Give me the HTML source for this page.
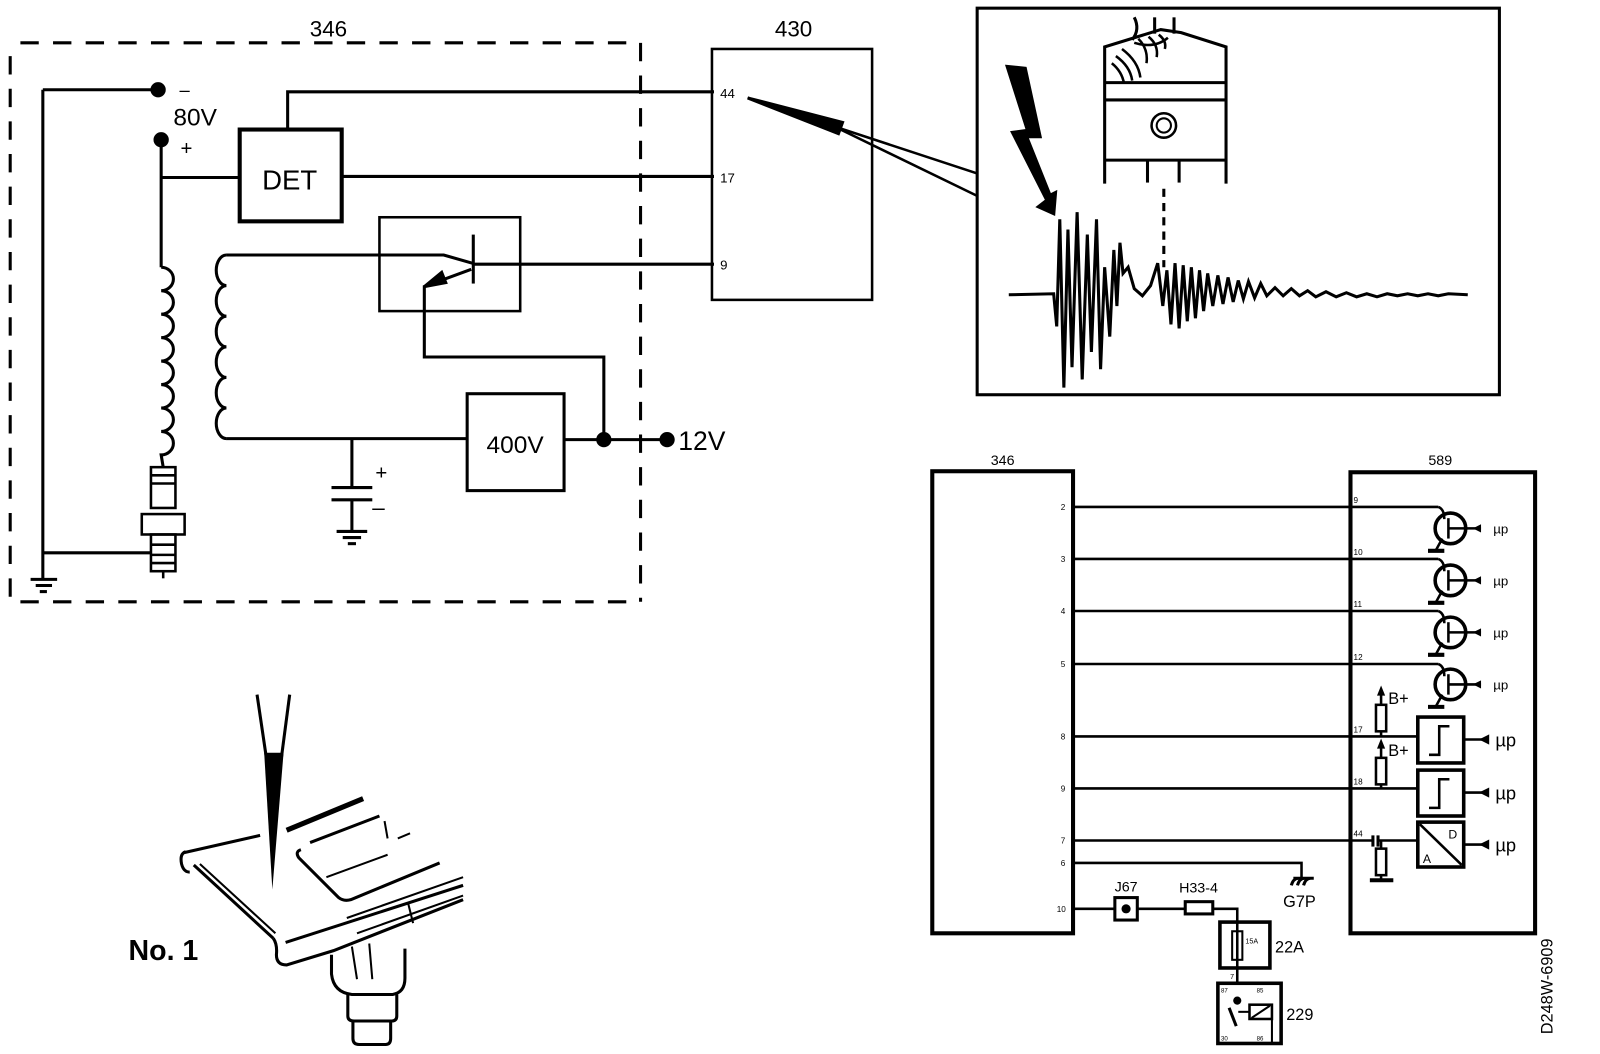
<!DOCTYPE html>
<html><head><meta charset="utf-8"><style>
html,body{margin:0;padding:0;background:#fff;}
svg{display:block;}
text{font-family:"Liberation Sans",Arial,sans-serif;fill:#000;}
</style></head><body>
<svg width="1600" height="1054" viewBox="0 0 1600 1054" xmlns="http://www.w3.org/2000/svg">
<rect width="1600" height="1054" fill="#fff"/>
<g transform="scale(1.02)" stroke="#000" fill="none" stroke-width="3" stroke-linecap="butt">

<!-- ===== TOP LEFT CIRCUIT ===== -->
<text x="322" y="36" font-size="22" text-anchor="middle" stroke="none">346</text>
<g stroke-width="3" stroke-dasharray="18 14">
<line x1="20" y1="42" x2="628" y2="42"/>
<line x1="10" y1="55" x2="10" y2="590"/>
<line x1="628" y1="42" x2="628" y2="590"/>
<line x1="20" y1="590" x2="628" y2="590"/>
</g>
<line x1="42" y1="88" x2="42" y2="567"/>
<line x1="42" y1="88" x2="155" y2="88"/>
<circle cx="155" cy="88" r="6" fill="#000"/>
<text x="176" y="94" font-size="18" stroke="none">–</text>
<text x="170" y="123" font-size="24" stroke="none">80V</text>
<circle cx="158" cy="137" r="6" fill="#000"/>
<text x="177" y="152" font-size="20" stroke="none">+</text>
<line x1="158" y1="137" x2="158" y2="262"/>
<line x1="158" y1="174" x2="235" y2="174"/>
<rect x="235" y="127" width="100" height="90" stroke-width="4"/>
<text x="284" y="186" font-size="27" text-anchor="middle" stroke="none">DET</text>
<polyline points="282,127 282,90 700,90"/>
<line x1="335" y1="173" x2="700" y2="173"/>
<!-- coil 1 -->
<path d="M158,262 a12,11.5 0 0 1 0,23 a12,11.5 0 0 1 0,23 a12,11.5 0 0 1 0,23 a12,11.5 0 0 1 0,23 a12,11.5 0 0 1 0,23 a12,11.5 0 0 1 0,23 a12,11.5 0 0 1 0,23 a12,11.5 0 0 1 0,23 L160,458"/>
<!-- spark plug -->
<g stroke-width="2.5">
<rect x="148" y="458" width="24" height="40"/>
<line x1="148" y1="466" x2="172" y2="466"/><line x1="148" y1="474" x2="172" y2="474"/>
<rect x="139" y="504" width="42" height="20"/>
<rect x="148" y="524" width="24" height="36"/>
<line x1="148" y1="534" x2="172" y2="534"/><line x1="148" y1="544" x2="172" y2="544"/><line x1="148" y1="552" x2="172" y2="552"/>
<line x1="160" y1="560" x2="160" y2="567"/>
</g>
<line x1="42" y1="542" x2="148" y2="542"/>
<g stroke-width="3">
<line x1="30" y1="568" x2="56" y2="568"/><line x1="35" y1="574" x2="51" y2="574"/><line x1="39" y1="580" x2="46" y2="580"/>
</g>
<!-- coil 2 -->
<path d="M222,250 a10,15 0 0 0 0,30 a10,15 0 0 0 0,30 a10,15 0 0 0 0,30 a10,15 0 0 0 0,30 a10,15 0 0 0 0,30 a10,15 0 0 0 0,30"/>
<polyline points="222,250 435,250 463,258"/>
<rect x="372" y="213" width="138" height="92" stroke-width="2.5"/>
<line x1="464" y1="230" x2="464" y2="278" stroke-width="3"/>
<line x1="464" y1="259" x2="700" y2="259"/>
<polyline points="462,264 416,281 416,350 592,350 592,432"/>
<polygon points="416,281 433,267 437,277" fill="#000"/>
<line x1="222" y1="430" x2="458" y2="430"/>
<rect x="458" y="386" width="95" height="95"/>
<text x="505" y="444" font-size="24" text-anchor="middle" stroke="none">400V</text>
<line x1="553" y1="431" x2="652" y2="431"/>
<circle cx="592" cy="431" r="6" fill="#000"/>
<circle cx="654" cy="431" r="6" fill="#000"/>
<text x="665" y="441" font-size="26" stroke="none">12V</text>
<line x1="345" y1="430" x2="345" y2="477"/>
<line x1="325" y1="478" x2="365" y2="478" stroke-width="3"/>
<line x1="325" y1="490" x2="365" y2="490" stroke-width="3"/>
<line x1="345" y1="490" x2="345" y2="520"/>
<g stroke-width="3"><line x1="330" y1="521" x2="360" y2="521"/><line x1="336" y1="527" x2="354" y2="527"/><line x1="341" y1="533" x2="349" y2="533"/></g>
<text x="368" y="470" font-size="20" stroke="none">+</text>
<text x="365" y="505" font-size="22" stroke="none">–</text>

<!-- ===== 430 BOX ===== -->
<text x="778" y="36" font-size="22" text-anchor="middle" stroke="none">430</text>
<rect x="698" y="48" width="157" height="246" stroke-width="2.5"/>
<text x="706" y="96" font-size="13" stroke="none">44</text>
<text x="706" y="179" font-size="13" stroke="none">17</text>
<text x="706" y="264" font-size="13" stroke="none">9</text>
<!-- wedge -->
<line x1="733" y1="96" x2="958" y2="170" stroke-width="2.5"/>
<line x1="822" y1="126" x2="958" y2="192" stroke-width="2.5"/>
<polygon points="733,96 826,120 822,131" fill="#000"/>

<!-- ===== WAVEFORM BOX ===== -->
<rect x="958" y="8" width="512" height="379" stroke-width="3"/>
<!-- piston -->
<g stroke-width="3">
<polyline points="1083,180 1083,46 1138,29 1158,32 1202,46 1202,180"/>
<line x1="1083" y1="81" x2="1202" y2="81"/>
<line x1="1083" y1="98" x2="1202" y2="98"/>
<line x1="1083" y1="157" x2="1202" y2="157"/>
<line x1="1125" y1="157" x2="1125" y2="179"/>
<line x1="1156" y1="157" x2="1156" y2="179"/>
<line x1="1132" y1="17" x2="1132" y2="33"/>
<line x1="1151" y1="17" x2="1151" y2="33"/>
<path d="M1112,17 q6,12 -2,22"/>
</g>
<circle cx="1141" cy="123" r="12" stroke-width="2.5"/>
<circle cx="1141" cy="123" r="7" stroke-width="2"/>
<path d="M1112,42 q20,6 33,-5" stroke-width="2.5"/>
<g stroke-width="2.5">
<path d="M1090,62 q10,8 12,20"/><path d="M1094,55 q14,10 16,24"/><path d="M1100,48 q16,12 18,28"/>
<path d="M1116,38 q10,10 8,24"/><path d="M1126,36 q10,8 8,20"/><path d="M1136,34 q8,6 6,14"/>
</g>
<line x1="1141" y1="185" x2="1141" y2="262" stroke-dasharray="8 6"/>
<polygon points="986,64 1006,66 1021,135 1008,135 1030,190 1036,187 1034,211 1016,203 1025,196 991,129 1006,127" fill="#000" stroke-width="1"/>
<polyline stroke-width="3" points="989,289 1033,288 1036,320 1039,215 1043,380 1047,225 1051,360 1056,208 1061,372 1066,230 1070,345 1075,215 1079,362 1083,262 1088,330 1092,245 1095,300 1098,238 1101,268 1106,262 1112,283 1120,290 1128,280 1135,258 1140,300 1144,265 1148,318 1152,258 1156,322 1160,260 1164,315 1168,262 1172,312 1176,265 1180,305 1184,268 1189,300 1194,270 1199,298 1204,272 1209,296 1214,275 1219,293 1224,276 1230,292 1236,278 1242,290 1250,282 1258,290 1266,283 1274,290 1282,285 1290,291 1300,286 1310,291 1320,287 1330,291 1340,288 1350,291 1360,288 1370,290 1380,288 1390,290 1400,288 1410,290 1420,288 1439,289"/>

<!-- ===== BOTTOM RIGHT DIAGRAM ===== -->
<text x="983" y="456" font-size="14" text-anchor="middle" stroke="none">346</text>
<text x="1412" y="456" font-size="14" text-anchor="middle" stroke="none">589</text>
<rect x="914" y="462" width="138" height="453" stroke-width="4"/>
<rect x="1324" y="463" width="181" height="452" stroke-width="4"/>
<g stroke-width="2.5">
<line x1="1052" y1="497" x2="1410" y2="497"/>
<line x1="1052" y1="548" x2="1410" y2="548"/>
<line x1="1052" y1="599" x2="1410" y2="599"/>
<line x1="1052" y1="651" x2="1410" y2="651"/>
<line x1="1052" y1="722" x2="1390" y2="722"/>
<line x1="1052" y1="773" x2="1390" y2="773"/>
<line x1="1052" y1="824" x2="1346" y2="824"/>
<line x1="1351" y1="824" x2="1390" y2="824"/>
<polyline points="1052,846 1276,846 1276,860"/>
<line x1="1052" y1="891" x2="1093" y2="891"/>
<line x1="1115" y1="891" x2="1162" y2="891"/>
<polyline points="1189,891 1213,891 1213,964"/>
</g>
<g font-size="8" stroke="none">
<text x="1040" y="500">2</text><text x="1040" y="551">3</text><text x="1040" y="602">4</text><text x="1040" y="654">5</text>
<text x="1040" y="725">8</text><text x="1040" y="776">9</text><text x="1040" y="827">7</text><text x="1040" y="849">6</text><text x="1036" y="894">10</text>
<text x="1327" y="493">9</text><text x="1327" y="544">10</text><text x="1327" y="595">11</text><text x="1327" y="647">12</text>
<text x="1327" y="718">17</text><text x="1327" y="769">18</text><text x="1327" y="820">44</text>
</g>
<!-- transistors -->
<g stroke-width="3.5">
<circle cx="1422" cy="518" r="15"/><circle cx="1422" cy="569" r="15"/><circle cx="1422" cy="620" r="15"/><circle cx="1422" cy="671" r="15"/>
</g>
<g stroke-width="2.5">
<path d="M1410,497 q6,2 6,12"/><path d="M1410,548 q6,2 6,12"/><path d="M1410,599 q6,2 6,12"/><path d="M1410,651 q6,2 6,12"/>
<line x1="1420" y1="508" x2="1420" y2="528"/><line x1="1420" y1="518" x2="1452" y2="518"/><line x1="1414" y1="528" x2="1408" y2="539"/>
<line x1="1420" y1="559" x2="1420" y2="579"/><line x1="1420" y1="569" x2="1452" y2="569"/><line x1="1414" y1="579" x2="1408" y2="590"/>
<line x1="1420" y1="610" x2="1420" y2="630"/><line x1="1420" y1="620" x2="1452" y2="620"/><line x1="1414" y1="630" x2="1408" y2="641"/>
<line x1="1420" y1="661" x2="1420" y2="681"/><line x1="1420" y1="671" x2="1452" y2="671"/><line x1="1414" y1="681" x2="1408" y2="692"/>
</g>
<g stroke-width="4">
<line x1="1400" y1="540" x2="1416" y2="540"/><line x1="1400" y1="591" x2="1416" y2="591"/><line x1="1400" y1="642" x2="1416" y2="642"/><line x1="1400" y1="693" x2="1416" y2="693"/>
</g>
<g fill="#000" stroke="none">
<polygon points="1444,518 1452,514 1452,522"/><polygon points="1444,569 1452,565 1452,573"/><polygon points="1444,620 1452,616 1452,624"/><polygon points="1444,671 1452,667 1452,675"/>
</g>
<g font-size="13" stroke="none">
<text x="1464" y="523">µp</text><text x="1464" y="574">µp</text><text x="1464" y="625">µp</text><text x="1464" y="676">µp</text>
</g>
<!-- resistors B+ -->
<g stroke-width="2.5">
<rect x="1349" y="691" width="10" height="26"/><line x1="1354" y1="680" x2="1354" y2="691"/><line x1="1354" y1="717" x2="1354" y2="722"/>
<rect x="1349" y="743" width="10" height="26"/><line x1="1354" y1="732" x2="1354" y2="743"/><line x1="1354" y1="769" x2="1354" y2="773"/>
<line x1="1346" y1="819" x2="1346" y2="830" stroke-width="3"/><line x1="1351" y1="819" x2="1351" y2="830" stroke-width="3"/>
<line x1="1354" y1="824" x2="1354" y2="832"/><rect x="1349" y="832" width="10" height="26"/><line x1="1354" y1="858" x2="1354" y2="862"/>
</g>
<line x1="1343" y1="863" x2="1366" y2="863" stroke-width="4"/>
<polygon points="1354,672 1350,682 1358,682" fill="#000" stroke="none"/>
<polygon points="1354,724 1350,734 1358,734" fill="#000" stroke="none"/>
<text x="1361" y="690" font-size="16" stroke="none">B+</text>
<text x="1361" y="741" font-size="16" stroke="none">B+</text>
<!-- schmitt & adc -->
<g stroke-width="3.5">
<rect x="1390" y="703" width="45" height="45"/>
<rect x="1390" y="755" width="45" height="45"/>
<rect x="1390" y="806" width="45" height="44"/>
</g>
<g stroke-width="2.5">
<polyline points="1401,740 1411,740 1411,712 1421,712"/>
<polyline points="1401,792 1411,792 1411,764 1421,764"/>
<line x1="1392" y1="808" x2="1433" y2="848"/>
<line x1="1435" y1="725" x2="1458" y2="725"/><line x1="1435" y1="777" x2="1458" y2="777"/><line x1="1435" y1="828" x2="1458" y2="828"/>
</g>
<text x="1420" y="822" font-size="12" stroke="none">D</text>
<text x="1395" y="846" font-size="12" stroke="none">A</text>
<g fill="#000" stroke="none">
<polygon points="1450,725 1460,720 1460,730"/><polygon points="1450,777 1460,772 1460,782"/><polygon points="1450,828 1460,823 1460,833"/>
</g>
<g font-size="18" stroke="none">
<text x="1466" y="732">µp</text><text x="1466" y="784">µp</text><text x="1466" y="835">µp</text>
</g>
<!-- G7P ground -->
<path d="M1266,868 q2,-7 7,-7 M1272,868 q2,-7 7,-7 M1278,868 q2,-7 7,-7 M1268,861 L1288,861" stroke-width="3"/>
<text x="1258" y="889" font-size="16" stroke="none">G7P</text>
<!-- J67 / H33-4 / 22A / 229 -->
<rect x="1093" y="880" width="22" height="22" stroke-width="3"/>
<circle cx="1104" cy="891" r="3" fill="#000"/>
<text x="1104" y="874" font-size="14" text-anchor="middle" stroke="none">J67</text>
<rect x="1162" y="884" width="27" height="12" stroke-width="3"/>
<text x="1175" y="875" font-size="14" text-anchor="middle" stroke="none">H33-4</text>
<rect x="1196" y="904" width="49" height="45" stroke-width="3.5"/>
<rect x="1208" y="913" width="10" height="28" stroke-width="2"/>
<text x="1221" y="925" font-size="7" stroke="none">15A</text>
<text x="1250" y="934" font-size="16" stroke="none">22A</text>
<text x="1206" y="960" font-size="7" stroke="none">7</text>
<rect x="1194" y="964" width="62" height="59" stroke-width="3.5"/>
<circle cx="1213" cy="981" r="2.5" fill="#000"/>
<line x1="1205" y1="988" x2="1212" y2="1006" stroke-width="3"/>
<rect x="1225" y="985" width="22" height="14" stroke-width="2.5"/>
<line x1="1227" y1="998" x2="1245" y2="986" stroke-width="2"/>
<line x1="1214" y1="992" x2="1225" y2="992" stroke-width="2"/>
<line x1="1247" y1="999" x2="1247" y2="1023" stroke-width="2"/>
<g font-size="6" stroke="none"><text x="1197" y="973">87</text><text x="1232" y="973">85</text><text x="1197" y="1020">30</text><text x="1232" y="1020">86</text></g>
<text x="1261" y="1000" font-size="16" stroke="none">229</text>

<!-- ===== NO. 1 ILLUSTRATION ===== -->
<text x="126" y="941" font-size="28" font-weight="bold" stroke="none">No. 1</text>
<g stroke-width="3">
<line x1="252" y1="681" x2="261" y2="742"/>
<line x1="284" y1="681" x2="276" y2="742"/>
</g>
<polygon points="259,738 278,738 267,872" fill="#000" stroke="none"/>
<g stroke-width="3">
<line x1="180" y1="836" x2="255" y2="819"/>
<line x1="281" y1="814" x2="356" y2="783" stroke-width="5"/>
<path d="M182,835 q-6,2 -4,12 q2,8 8,8"/>
<line x1="190" y1="848" x2="268" y2="920"/>
<line x1="196" y1="847" x2="270" y2="915" stroke-width="2"/>
<path d="M268,920 q4,6 3,16 q0,10 10,10 L327,932 L454,882"/>
<line x1="280" y1="924" x2="454" y2="868"/>
<path d="M295,833 q-6,2 -2,8 L332,880 q5,4 12,2 L431,846"/>
<line x1="304" y1="826" x2="372" y2="800"/>
<line x1="320" y1="860" x2="380" y2="838" stroke-width="2"/>
<line x1="377" y1="805" x2="380" y2="822" stroke-width="2"/>
<line x1="390" y1="822" x2="402" y2="817" stroke-width="2"/>
<line x1="340" y1="900" x2="454" y2="860" stroke-width="2"/>
<line x1="350" y1="915" x2="454" y2="878" stroke-width="2"/>
<line x1="400" y1="885" x2="405" y2="905" stroke-width="2"/>
<line x1="345" y1="928" x2="350" y2="960" stroke-width="2"/>
<line x1="362" y1="925" x2="365" y2="960" stroke-width="2"/>
<path d="M325,936 L325,955 q2,18 20,20 L385,975 q12,-2 12,-16 L397,930"/>
<path d="M341,975 L341,996 q0,5 6,5 L384,1001 q5,0 5,-5 L389,975"/>
<path d="M346,1001 L346,1018 q0,6 6,6 L378,1024 q5,0 5,-6 L383,1001"/>
</g>

<!-- Reference code -->
<text transform="translate(1522,1014) rotate(-90)" font-size="16" stroke="none">D248W-6909</text>
</g>
</svg>
</body></html>
